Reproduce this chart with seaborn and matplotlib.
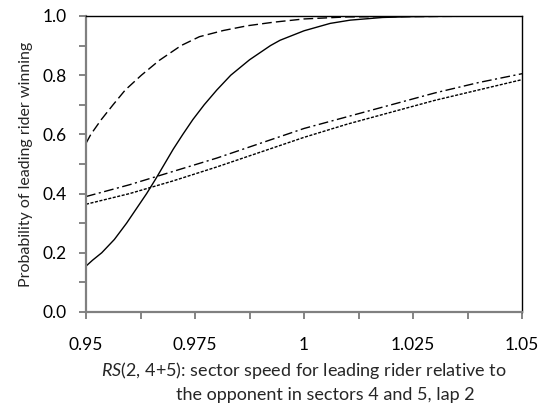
import matplotlib.pyplot as plt
import seaborn as sns
from matplotlib.ticker import MultipleLocator

# values
x_solid = [0.950, 0.9515, 0.9536, 0.9565, 0.9593, 0.9616, 0.9639, 0.966, 0.968, 0.970,
           0.9722, 0.9745, 0.9771, 0.980, 0.9832, 0.9875, 0.9923, 0.9945, 1.000, 1.006,
           1.0106, 1.018, 1.025, 1.035, 1.050]
y_solid = [0.155, 0.175, 0.200, 0.245, 0.300, 0.350, 0.400, 0.450, 0.500, 0.550,
           0.600, 0.650, 0.700, 0.750, 0.800, 0.852, 0.900, 0.918, 0.950, 0.975,
           0.986, 0.995, 0.998, 0.9995, 1.000]

x_dashed = [0.950, 0.9511, 0.9535, 0.9562, 0.959, 0.9627, 0.9668, 0.9718, 0.976, 0.9815,
            0.987, 0.993, 1.000, 1.010, 1.050]
y_dashed = [0.570, 0.600, 0.650, 0.700, 0.750, 0.800, 0.850, 0.900, 0.930, 0.951,
            0.967, 0.979, 0.990, 0.997, 1.000]

x_lin = [0.95, 0.96, 0.97, 0.98, 0.99, 1.00, 1.01, 1.02, 1.03, 1.04, 1.05]
y_dashdot = [0.390, 0.430, 0.475, 0.520, 0.570, 0.620, 0.660, 0.700, 0.740, 0.775, 0.805]
y_dotted = [0.364, 0.400, 0.443, 0.490, 0.540, 0.590, 0.635, 0.675, 0.715, 0.750, 0.785]

x_ticks = [0.95, 0.975, 1.0, 1.025, 1.05]
x_ticklabels = ['0.95', '0.975', '1', '1.025', '1.05']

sns.set_style('ticks')
plt.rcParams['font.family'] = ['Lato', 'DejaVu Sans']
plt.rcParams['mathtext.fontset'] = 'custom'
plt.rcParams['mathtext.it'] = 'Lato:italic'
plt.rcParams['mathtext.rm'] = 'Lato'

fig = plt.figure(figsize=(5.39, 4.09), dpi=100)
ax = fig.add_axes([0.1596, 0.2372, 0.8089, 0.7237])

lw = 1.0
sns.lineplot(x=x_solid, y=y_solid, ax=ax, color='black', lw=lw)
sns.lineplot(x=x_dashed, y=y_dashed, ax=ax, color='black', lw=lw,
             linestyle=(0, (7, 3)))
sns.lineplot(x=x_lin, y=y_dashdot, ax=ax, color='black', lw=lw,
             linestyle=(0, (7, 2.5, 1.5, 2.5)))
sns.lineplot(x=x_lin, y=y_dotted, ax=ax, color='black', lw=lw,
             linestyle=(0, (2.2, 1.1)))

ax.set_xlim(0.95, 1.05)
ax.set_ylim(0, 1)
ax.set_xticks(x_ticks)
ax.set_xticklabels(x_ticklabels)
ax.xaxis.set_minor_locator(MultipleLocator(0.0125))
ax.yaxis.set_major_locator(MultipleLocator(0.2))
ax.yaxis.set_minor_locator(MultipleLocator(0.1))
ax.yaxis.set_major_formatter(plt.FuncFormatter(lambda v, p: f'{v:.1f}'))

for side in ['left', 'bottom']:
    ax.spines[side].set_color('#808080')
    ax.spines[side].set_linewidth(1.6)
for side in ['top', 'right']:
    ax.spines[side].set_visible(True)
    ax.spines[side].set_color('black')
    ax.spines[side].set_linewidth(1.0)

ax.tick_params(which='both', direction='out', length=5, width=1.3, color='#7a7a7a',
               labelsize=12.5, labelcolor='black')
ax.tick_params(axis='x', pad=13)
ax.tick_params(axis='y', pad=9)

ax.set_xlabel(r'$\mathit{RS}$(2, 4+5): sector speed for leading rider relative to',
              fontsize=13, labelpad=5)
fig.text(325 / 539, 1 - 400 / 409, 'the opponent in sectors 4 and 5, lap 2',
         fontsize=13, ha='center', va='baseline')
ax.set_ylabel('Probability of leading rider winning', fontsize=11.5, labelpad=7)

fig.savefig('out.png', dpi=100)
